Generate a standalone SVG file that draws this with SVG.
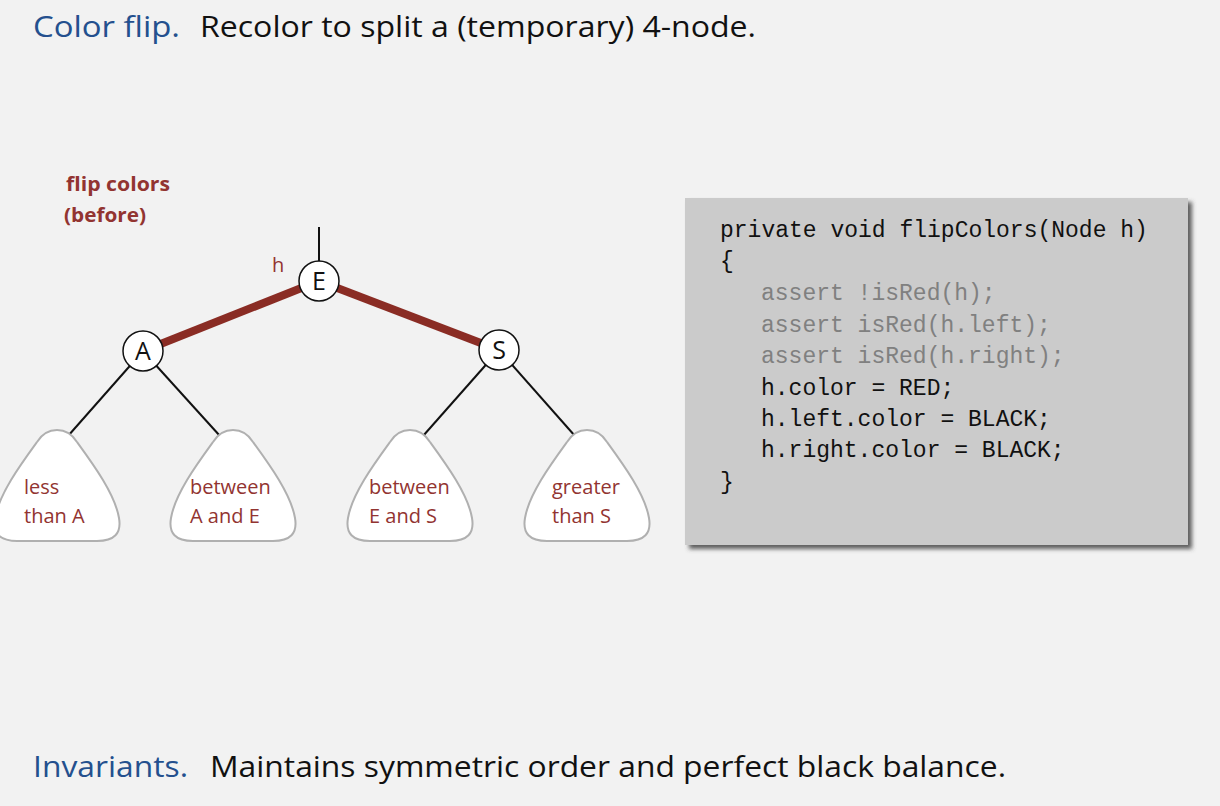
<svg xmlns="http://www.w3.org/2000/svg" width="1220" height="806" viewBox="0 0 1220 806">
  <style>
    .head { font-family: "Open Sans", "Liberation Sans", sans-serif; font-size: 30px; }
    .blue { fill: #24508e; }
    .dark { fill: #111; }
    .red { fill: #923431; font-family: "Open Sans", "Liberation Sans", sans-serif; }
    .lbl { font-size: 20px; }
    .ttl { font-size: 20px; font-weight: bold; }
    .code { font-family: "Liberation Mono", "DejaVu Sans Mono", monospace; font-size: 23px; fill: #111; }
    .gray { fill: #808080; }
    .node circle { fill: #fff; stroke: #111; stroke-width: 1.5; }
    .node text { font-family: "Open Sans", "Liberation Sans", sans-serif; font-size: 25px; fill: #111; text-anchor: middle; }
    .blk { stroke: #111; stroke-width: 2; fill: none; }
    .redl { stroke: #8a2c24; stroke-width: 8; fill: none; }
    .sub { fill: #fff; stroke: #b0b0b0; stroke-width: 2; }
  </style>
  <defs>
    <path id="tri" d="M -20,12 C -10,-4 10,-4 20,12 C 36,34 58,64 62,88 Q 66,111 40,111 L -40,111 Q -66,111 -62,88 C -58,64 -36,34 -20,12 Z"/>
    <filter id="shadow" x="-5%" y="-5%" width="115%" height="115%">
      <feDropShadow dx="4" dy="4" stdDeviation="2" flood-color="#444" flood-opacity="0.85"/>
    </filter>
  </defs>
  <rect width="1220" height="806" fill="#f2f2f2"/>

  <g id="title" class="head">
    <text x="33" y="37" class="blue" textLength="147" lengthAdjust="spacingAndGlyphs">Color flip.</text>
    <text x="200" y="37" class="dark" textLength="556" lengthAdjust="spacingAndGlyphs">Recolor to split a (temporary) 4-node.</text>
  </g>

  <g id="caption" class="red ttl">
    <text x="66" y="191" textLength="104" lengthAdjust="spacingAndGlyphs">flip colors</text>
    <text x="64" y="222" textLength="82" lengthAdjust="spacingAndGlyphs">(before)</text>
  </g>

  <g id="connectors">
    <line class="blk" x1="319" y1="227" x2="319" y2="262"/>
    <line class="redl" x1="319" y1="281" x2="143" y2="351"/>
    <line class="redl" x1="319" y1="281" x2="499" y2="350"/>
    <line class="blk" x1="143" y1="351" x2="68" y2="436"/>
    <line class="blk" x1="143" y1="351" x2="220" y2="436"/>
    <line class="blk" x1="499" y1="350" x2="423" y2="436"/>
    <line class="blk" x1="499" y1="350" x2="575" y2="436"/>
  </g>

  <g id="node-E" class="node">
    <circle cx="319" cy="281" r="20"/>
    <text x="319" y="290">E</text>
  </g>
  <text id="label-h" x="272" y="272" class="red lbl">h</text>
  <g id="node-A" class="node">
    <circle cx="143" cy="351" r="20"/>
    <text x="143" y="360">A</text>
  </g>
  <g id="node-S" class="node">
    <circle cx="499" cy="350" r="20"/>
    <text x="499" y="359">S</text>
  </g>

  <g id="sub-lessA">
    <use href="#tri" class="sub" transform="translate(57,430)"/>
    <text class="red lbl" x="24" y="494">less</text>
    <text class="red lbl" x="24" y="523">than A</text>
  </g>
  <g id="sub-AE">
    <use href="#tri" class="sub" transform="translate(233,430)"/>
    <text class="red lbl" x="190" y="494">between</text>
    <text class="red lbl" x="190" y="523">A and E</text>
  </g>
  <g id="sub-ES">
    <use href="#tri" class="sub" transform="translate(410,430)"/>
    <text class="red lbl" x="369" y="494">between</text>
    <text class="red lbl" x="369" y="523">E and S</text>
  </g>
  <g id="sub-gtS">
    <use href="#tri" class="sub" transform="translate(587,430)"/>
    <text class="red lbl" x="552" y="494">greater</text>
    <text class="red lbl" x="552" y="523">than S</text>
  </g>

  <g id="code-box">
    <rect x="685" y="198" width="503" height="347" fill="#cbcbcb" filter="url(#shadow)"/>
    <text class="code" x="720" y="237">private void flipColors(Node h)</text>
    <text class="code" x="720" y="268">{</text>
    <text class="code gray" x="761" y="300">assert !isRed(h);</text>
    <text class="code gray" x="761" y="332">assert isRed(h.left);</text>
    <text class="code gray" x="761" y="363">assert isRed(h.right);</text>
    <text class="code" x="761" y="395">h.color = RED;</text>
    <text class="code" x="761" y="426">h.left.color = BLACK;</text>
    <text class="code" x="761" y="457">h.right.color = BLACK;</text>
    <text class="code" x="720" y="489">}</text>
  </g>

  <g id="footer" class="head">
    <text x="33" y="777" class="blue" textLength="155" lengthAdjust="spacingAndGlyphs">Invariants.</text>
    <text x="210" y="777" class="dark" textLength="796" lengthAdjust="spacingAndGlyphs">Maintains symmetric order and perfect black balance.</text>
  </g>
</svg>
